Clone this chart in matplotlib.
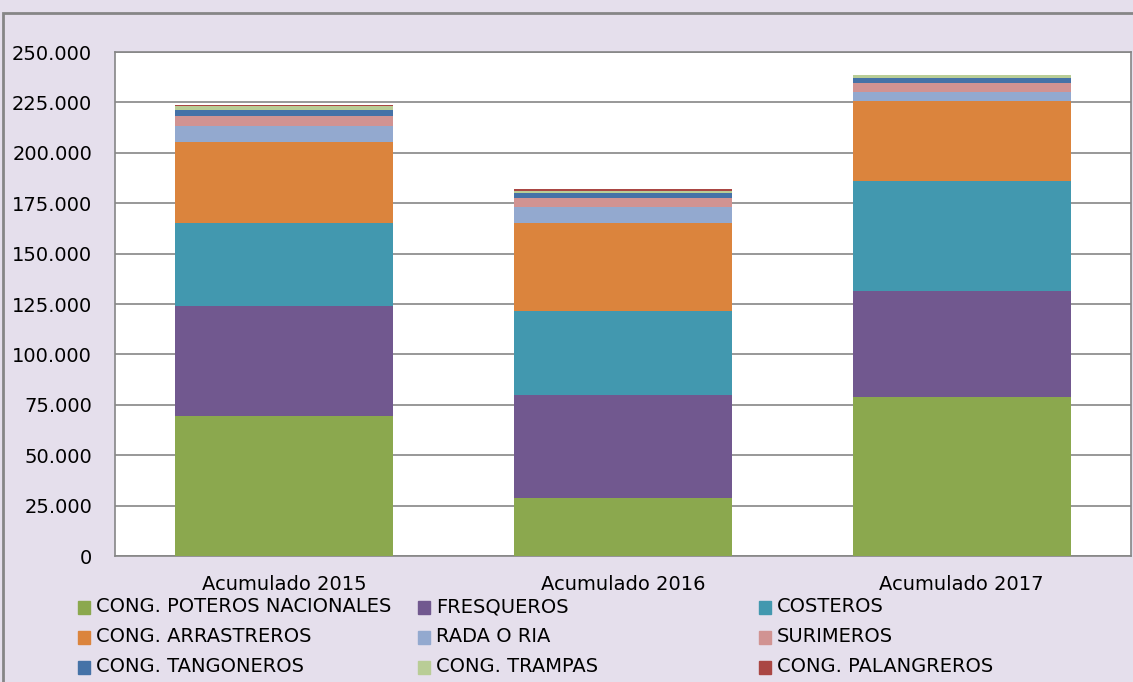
import matplotlib
matplotlib.use("Agg")
import matplotlib.pyplot as plt
from matplotlib.patches import Rectangle
from matplotlib.ticker import FuncFormatter, MultipleLocator

categories = ["Acumulado 2015", "Acumulado 2016", "Acumulado 2017"]
series_names = ["CONG. POTEROS NACIONALES", "FRESQUEROS", "COSTEROS",
                "CONG. ARRASTREROS", "RADA O RIA", "SURIMEROS",
                "CONG. TANGONEROS", "CONG. TRAMPAS", "CONG. PALANGREROS"]
poteros = [69500, 28800, 78900]
fresqueros = [54500, 51100, 52500]
costeros = [41200, 41600, 54600]
arrastreros = [40200, 43700, 39800]
rada = [7900, 8100, 4400]
surimeros = [5000, 4300, 4400]
tangoneros = [2900, 2500, 2500]
trampas = [2200, 1000, 1500]
palangreros = [300, 900, 0]
series_values = [poteros, fresqueros, costeros, arrastreros, rada,
                 surimeros, tangoneros, trampas, palangreros]
colors = ["#8BA84E", "#71588F", "#4298AF", "#DB843D", "#93A9CF",
          "#D19392", "#4572A7", "#B9CD96", "#AA4643"]

plt.rcParams['font.family'] = ['DejaVu Sans']
FS = 14

W, H = 1133, 682
fig = plt.figure(figsize=(W / 100, H / 100), dpi=100)
fig.patch.set_facecolor("#E5DFEC")
# outer border
fig.add_artist(Rectangle((3 / W, -0.1), 1.2, (H - 13) / H + 0.1, transform=fig.transFigure,
                         fill=False, edgecolor="#868686", linewidth=2))

ax = fig.add_axes([115 / W, (H - 556) / H, (1131 - 115) / W, (556 - 52) / H])
ax.set_facecolor("white")
x = list(range(len(categories)))
bottom = [0] * len(categories)
for name, vals, c in zip(series_names, series_values, colors):
    ax.bar(x, vals, bottom=bottom, width=0.643, color=c, label=name, zorder=3)
    bottom = [b + v for b, v in zip(bottom, vals)]

ax.set_xlim(-0.5, 2.5)
ax.set_ylim(0, 250000)
ax.yaxis.set_major_locator(MultipleLocator(25000))
ax.yaxis.set_major_formatter(FuncFormatter(lambda v, p: f"{int(v):,}".replace(",", ".")))
ax.grid(axis="y", color="#868686", linewidth=1.2, zorder=0)
for s in ax.spines.values():
    s.set_color("#868686")
    s.set_linewidth(1.2)
ax.tick_params(axis="y", length=0, pad=16.5, labelsize=FS)
ax.tick_params(axis="x", length=0, pad=14, labelsize=FS)
ax.set_xticks(x)
ax.set_xticklabels(categories)

# legend, row-wise 3 columns
col_x = [78, 418, 759]
row_y = [607, 637, 667]
for i, (name, c) in enumerate(zip(series_names, colors)):
    r, cc = divmod(i, 3)
    px, py = col_x[cc], row_y[r]
    fig.add_artist(Rectangle((px / W, (H - py - 6.5) / H), 12 / W, 13 / H,
                             transform=fig.transFigure, color=c))
    fig.text((px + 18) / W, (H - py) / H, name, fontsize=FS, va="center", ha="left")

fig.savefig("out.png", dpi=100, facecolor=fig.get_facecolor())
